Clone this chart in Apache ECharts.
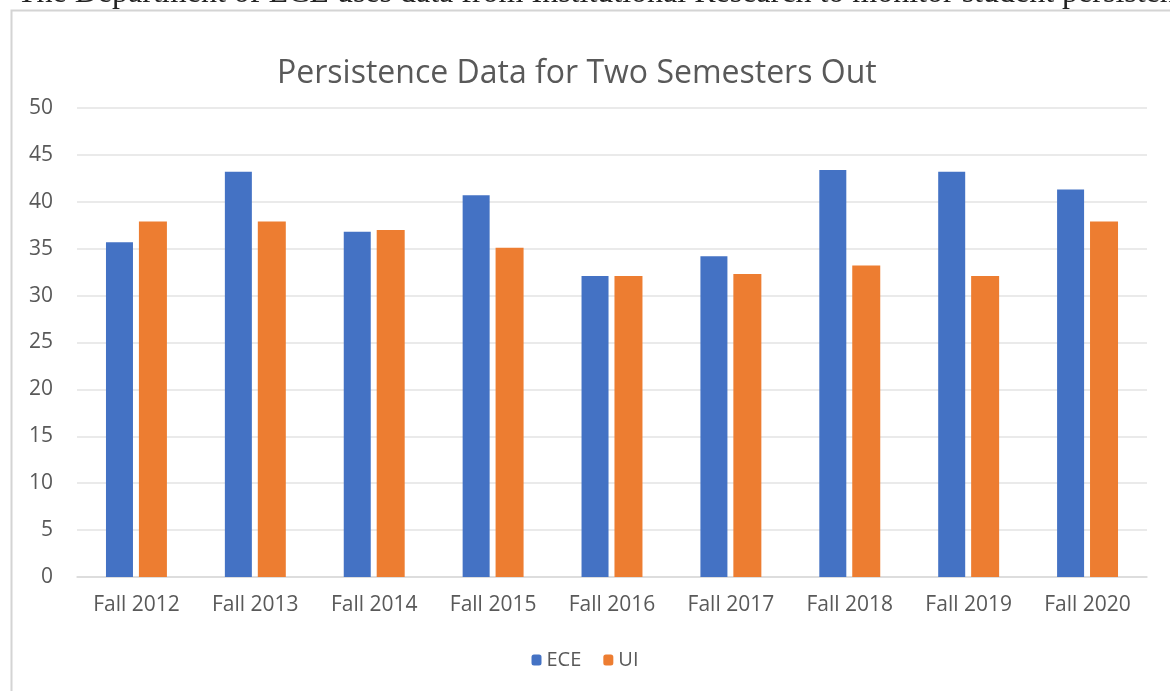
<!DOCTYPE html>
<html>
<head>
<meta charset="utf-8">
<script src="https://cdn.jsdelivr.net/npm/echarts@6/dist/echarts.min.js"></script>
<style>
html, body { margin: 0; padding: 0; background: #fff; }
#main { width: 1170px; height: 691px; }
</style>
</head>
<body>
<div id="main"></div>
<script>
var categories = ['Fall 2012', 'Fall 2013', 'Fall 2014', 'Fall 2015', 'Fall 2016', 'Fall 2017', 'Fall 2018', 'Fall 2019', 'Fall 2020'];
var eceValues = [35.7, 43.2, 36.8, 40.7, 32.1, 34.2, 43.4, 43.2, 41.3];
var uiValues = [37.9, 37.9, 37.0, 35.1, 32.1, 32.3, 33.2, 32.1, 37.9];
var yTicks = [0, 5, 10, 15, 20, 25, 30, 35, 40, 45, 50];

var chart = echarts.init(document.querySelector('#main'), null);
var option;
option = {
    backgroundColor: '#fff',
    animation: false,
    graphic: [
        {
            type: 'rect',
            shape: { x: 11.5, y: 10.5, width: 1200, height: 700 },
            style: { fill: '#fff', stroke: '#d4d4d4', lineWidth: 2 },
            z: -10
        },
        {
            type: 'text',
            left: 17,
            top: -22,
            style: {
                text: 'The Department of ECE uses data from Institutional Research to monitor student persistence',
                font: '32px "Liberation Serif"',
                fill: '#222'
            }
        }
    ],
    title: {
        text: 'Persistence Data for Two Semesters Out',
        left: 272,
        top: 53,
        textStyle: {
            fontFamily: 'Open Sans',
            fontWeight: 'normal',
            fontSize: 32,
            color: '#595959'
        }
    },
    legend: {
        bottom: 16,
        left: 'center',
        itemWidth: 10,
        itemHeight: 11,
        itemGap: 22,
        textStyle: { fontFamily: 'Open Sans', fontSize: 20, color: '#595959' },
        data: ['ECE', 'UI']
    },
    grid: {
        top: 108,
        left: 77,
        right: 23,
        bottom: 114
    },
    xAxis: {
        type: 'category',
        data: categories,
        axisTick: { show: false },
        axisLine: { lineStyle: { color: '#d9d9d9', width: 1.5 } },
        axisLabel: { fontFamily: 'Open Sans', fontSize: 21, color: '#595959', margin: 18 }
    },
    yAxis: {
        type: 'value',
        min: yTicks[0],
        max: yTicks[yTicks.length - 1],
        interval: yTicks[1] - yTicks[0],
        axisLine: { show: false },
        axisTick: { show: false },
        axisLabel: { fontFamily: 'Open Sans', fontSize: 21, color: '#595959', margin: 24 },
        splitLine: { lineStyle: { color: '#e3e3e3', width: 1.5 } }
    },
    series: [
        {
            name: 'ECE',
            type: 'bar',
            data: eceValues,
            barWidth: 27,
            barGap: '22%',
            itemStyle: { color: '#4472c4' }
        },
        {
            name: 'UI',
            type: 'bar',
            data: uiValues,
            barWidth: 28,
            itemStyle: { color: '#ed7d31' }
        }
    ]
};

if (option && typeof option === 'object') {
    chart.setOption(option);
}

window.addEventListener('resize', function () {
    chart.resize();
})
</script>
</body>
</html>
